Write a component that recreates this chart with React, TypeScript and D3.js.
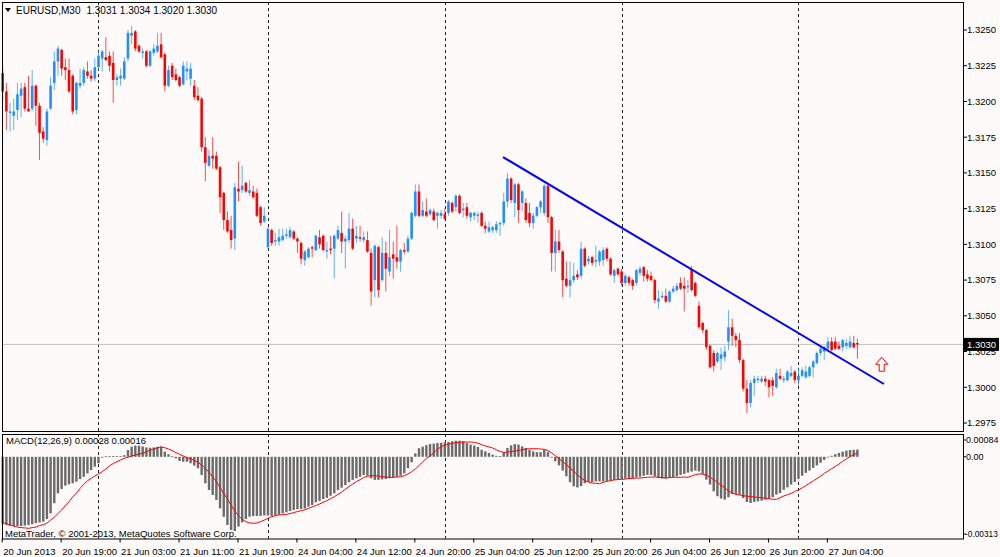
import React from 'react';
import * as d3 from 'd3';

// EURUSD M30, 20 Jun 2013 11:00 .. 27 Jun 2013 08:00
const opens = [
  1.3220, 1.3207, 1.3192, 1.3190, 1.3194, 1.3204, 1.3210, 1.3195, 1.3195, 1.3211,
  1.3197, 1.3179, 1.3173, 1.3195, 1.3213, 1.3228, 1.3236, 1.3224, 1.3222, 1.3218,
  1.3194, 1.3211, 1.3213, 1.3221, 1.3218, 1.3216, 1.3224, 1.3230, 1.3231, 1.3232,
  1.3227, 1.3215, 1.3216, 1.3216, 1.3230, 1.3246, 1.3249, 1.3239, 1.3234, 1.3235,
  1.3225, 1.3234, 1.3235, 1.3240, 1.3233, 1.3211, 1.3225, 1.3219, 1.3217, 1.3212,
  1.3221, 1.3216, 1.3211, 1.3204, 1.3202, 1.3168, 1.3155, 1.3162, 1.3162, 1.3154,
  1.3136, 1.3117, 1.3110, 1.3104, 1.3139, 1.3138, 1.3143, 1.3136, 1.3137, 1.3136,
  1.3126, 1.3116, 1.3098, 1.3110, 1.3102, 1.3102, 1.3103, 1.3106, 1.3105, 1.3109,
  1.3104, 1.3101, 1.3089, 1.3091, 1.3098, 1.3096, 1.3105, 1.3106, 1.3095, 1.3097,
  1.3097, 1.3104, 1.3108, 1.3102, 1.3103, 1.3111, 1.3104, 1.3105, 1.3103, 1.3103,
  1.3094, 1.3075, 1.3098, 1.3075, 1.3094, 1.3081, 1.3093, 1.3091, 1.3088, 1.3096,
  1.3095, 1.3104, 1.3120, 1.3137, 1.3120, 1.3123, 1.3121, 1.3123, 1.3120, 1.3120,
  1.3121, 1.3122, 1.3129, 1.3126, 1.3134, 1.3124, 1.3126, 1.3119, 1.3120, 1.3120,
  1.3122, 1.3113, 1.3109, 1.3110, 1.3110, 1.3114, 1.3115, 1.3130, 1.3146, 1.3129,
  1.3142, 1.3129, 1.3129, 1.3122, 1.3115, 1.3120, 1.3126, 1.3122, 1.3141, 1.3119,
  1.3094, 1.3102, 1.3095, 1.3076, 1.3071, 1.3075, 1.3079, 1.3078, 1.3097, 1.3088,
  1.3091, 1.3088, 1.3088, 1.3089, 1.3097, 1.3090, 1.3078, 1.3083, 1.3081, 1.3073,
  1.3077, 1.3075, 1.3073, 1.3080, 1.3084, 1.3079, 1.3078, 1.3075, 1.3060, 1.3063,
  1.3064, 1.3060, 1.3067, 1.3068, 1.3073, 1.3071, 1.3070, 1.3082, 1.3073, 1.3057,
  1.3045, 1.3040, 1.3029, 1.3024, 1.3018, 1.3020, 1.3021, 1.3032, 1.3042, 1.3036,
  1.3033, 1.3019, 1.2999, 1.2989, 1.3003, 1.3005, 1.3004, 1.3006, 1.3005, 1.3005,
  1.3000, 1.3008, 1.3005, 1.3005, 1.3008, 1.3011, 1.3005, 1.3008, 1.3007, 1.3008,
  1.3014, 1.3017, 1.3024, 1.3025, 1.3027, 1.3032, 1.3032, 1.3029, 1.3028, 1.3029,
  1.3028, 1.3031, 1.3031,
];

const highs = [
  1.3224, 1.3213, 1.3199, 1.3202, 1.3213, 1.3213, 1.3213, 1.3218, 1.3222, 1.3212,
  1.3199, 1.3182, 1.3195, 1.3217, 1.3235, 1.3239, 1.3237, 1.3230, 1.3230, 1.3219,
  1.3214, 1.3223, 1.3224, 1.3228, 1.3222, 1.3230, 1.3235, 1.3236, 1.3245, 1.3235,
  1.3235, 1.3219, 1.3223, 1.3231, 1.3250, 1.3253, 1.3250, 1.3240, 1.3237, 1.3236,
  1.3236, 1.3240, 1.3248, 1.3248, 1.3234, 1.3225, 1.3227, 1.3223, 1.3218, 1.3228,
  1.3228, 1.3227, 1.3215, 1.3210, 1.3203, 1.3175, 1.3166, 1.3175, 1.3165, 1.3155,
  1.3137, 1.3123, 1.3120, 1.3143, 1.3158, 1.3155, 1.3144, 1.3145, 1.3141, 1.3139,
  1.3127, 1.3126, 1.3112, 1.3111, 1.3108, 1.3111, 1.3111, 1.3111, 1.3112, 1.3110,
  1.3105, 1.3102, 1.3096, 1.3098, 1.3099, 1.3107, 1.3110, 1.3107, 1.3102, 1.3106,
  1.3107, 1.3113, 1.3123, 1.3106, 1.3122, 1.3118, 1.3113, 1.3113, 1.3109, 1.3109,
  1.3097, 1.3100, 1.3099, 1.3105, 1.3102, 1.3110, 1.3102, 1.3113, 1.3097, 1.3101,
  1.3106, 1.3123, 1.3142, 1.3142, 1.3130, 1.3132, 1.3125, 1.3125, 1.3123, 1.3124,
  1.3125, 1.3131, 1.3130, 1.3135, 1.3135, 1.3129, 1.3129, 1.3123, 1.3123, 1.3123,
  1.3123, 1.3116, 1.3116, 1.3113, 1.3116, 1.3116, 1.3136, 1.3150, 1.3147, 1.3143,
  1.3143, 1.3138, 1.3132, 1.3129, 1.3122, 1.3127, 1.3131, 1.3142, 1.3143, 1.3120,
  1.3110, 1.3110, 1.3096, 1.3088, 1.3088, 1.3087, 1.3082, 1.3102, 1.3098, 1.3092,
  1.3092, 1.3099, 1.3096, 1.3098, 1.3098, 1.3091, 1.3083, 1.3084, 1.3083, 1.3079,
  1.3078, 1.3076, 1.3083, 1.3085, 1.3085, 1.3082, 1.3081, 1.3076, 1.3068, 1.3067,
  1.3069, 1.3068, 1.3071, 1.3073, 1.3077, 1.3077, 1.3075, 1.3085, 1.3074, 1.3060,
  1.3046, 1.3041, 1.3030, 1.3026, 1.3025, 1.3028, 1.3029, 1.3054, 1.3048, 1.3038,
  1.3038, 1.3020, 1.3005, 1.3005, 1.3008, 1.3008, 1.3008, 1.3008, 1.3006, 1.3007,
  1.3013, 1.3013, 1.3008, 1.3012, 1.3015, 1.3012, 1.3014, 1.3014, 1.3015, 1.3015,
  1.3019, 1.3025, 1.3029, 1.3029, 1.3035, 1.3035, 1.3035, 1.3032, 1.3034, 1.3034,
  1.3036, 1.3036, 1.3034,
];

const lows = [
  1.3200, 1.3180, 1.3179, 1.3180, 1.3187, 1.3189, 1.3193, 1.3193, 1.3193, 1.3183,
  1.3159, 1.3171, 1.3169, 1.3194, 1.3208, 1.3218, 1.3218, 1.3215, 1.3206, 1.3191,
  1.3191, 1.3209, 1.3211, 1.3216, 1.3214, 1.3214, 1.3222, 1.3221, 1.3228, 1.3221,
  1.3199, 1.3211, 1.3211, 1.3215, 1.3228, 1.3240, 1.3235, 1.3234, 1.3230, 1.3224,
  1.3224, 1.3232, 1.3234, 1.3230, 1.3207, 1.3210, 1.3215, 1.3214, 1.3210, 1.3211,
  1.3215, 1.3211, 1.3201, 1.3200, 1.3165, 1.3144, 1.3154, 1.3153, 1.3152, 1.3122,
  1.3110, 1.3108, 1.3097, 1.3096, 1.3130, 1.3136, 1.3136, 1.3134, 1.3132, 1.3119,
  1.3113, 1.3115, 1.3097, 1.3099, 1.3099, 1.3099, 1.3102, 1.3104, 1.3104, 1.3103,
  1.3094, 1.3086, 1.3085, 1.3090, 1.3091, 1.3095, 1.3097, 1.3095, 1.3090, 1.3093,
  1.3076, 1.3103, 1.3094, 1.3083, 1.3101, 1.3096, 1.3101, 1.3102, 1.3101, 1.3094,
  1.3057, 1.3063, 1.3063, 1.3074, 1.3067, 1.3078, 1.3076, 1.3083, 1.3081, 1.3093,
  1.3094, 1.3103, 1.3119, 1.3119, 1.3119, 1.3119, 1.3120, 1.3116, 1.3111, 1.3118,
  1.3117, 1.3120, 1.3122, 1.3123, 1.3121, 1.3119, 1.3118, 1.3116, 1.3117, 1.3115,
  1.3112, 1.3108, 1.3108, 1.3108, 1.3108, 1.3106, 1.3113, 1.3126, 1.3129, 1.3119,
  1.3115, 1.3123, 1.3115, 1.3112, 1.3111, 1.3119, 1.3122, 1.3120, 1.3115, 1.3081,
  1.3081, 1.3094, 1.3063, 1.3070, 1.3063, 1.3073, 1.3075, 1.3076, 1.3084, 1.3086,
  1.3085, 1.3084, 1.3085, 1.3085, 1.3088, 1.3078, 1.3073, 1.3078, 1.3071, 1.3071,
  1.3071, 1.3068, 1.3071, 1.3078, 1.3074, 1.3074, 1.3074, 1.3059, 1.3055, 1.3062,
  1.3059, 1.3059, 1.3066, 1.3067, 1.3068, 1.3053, 1.3066, 1.3067, 1.3063, 1.3041,
  1.3038, 1.3026, 1.3013, 1.3011, 1.3017, 1.3012, 1.3018, 1.3026, 1.3029, 1.3028,
  1.3017, 1.2997, 1.2982, 1.2986, 1.2994, 1.3003, 1.3003, 1.3001, 1.2993, 1.2994,
  1.2999, 1.3005, 1.3003, 1.3004, 1.3007, 1.3003, 1.3001, 1.3007, 1.3006, 1.3007,
  1.3007, 1.3016, 1.3022, 1.3019, 1.3026, 1.3025, 1.3026, 1.3026, 1.3025, 1.3027,
  1.3027, 1.3027, 1.3020,
];

const closes = [
  1.3207, 1.3193, 1.3193, 1.3193, 1.3205, 1.3209, 1.3195, 1.3193, 1.3211, 1.3197,
  1.3178, 1.3174, 1.3193, 1.3211, 1.3228, 1.3237, 1.3223, 1.3222, 1.3207, 1.3193,
  1.3213, 1.3213, 1.3222, 1.3218, 1.3216, 1.3224, 1.3232, 1.3235, 1.3229, 1.3225,
  1.3215, 1.3217, 1.3218, 1.3228, 1.3248, 1.3248, 1.3237, 1.3235, 1.3235, 1.3225,
  1.3235, 1.3237, 1.3239, 1.3231, 1.3211, 1.3222, 1.3217, 1.3215, 1.3211, 1.3225,
  1.3223, 1.3223, 1.3203, 1.3201, 1.3168, 1.3157, 1.3162, 1.3160, 1.3153, 1.3133,
  1.3117, 1.3109, 1.3103, 1.3140, 1.3137, 1.3141, 1.3137, 1.3138, 1.3133, 1.3120,
  1.3115, 1.3120, 1.3111, 1.3101, 1.3103, 1.3105, 1.3106, 1.3107, 1.3110, 1.3104,
  1.3102, 1.3090, 1.3095, 1.3097, 1.3097, 1.3106, 1.3100, 1.3096, 1.3096, 1.3096,
  1.3106, 1.3110, 1.3102, 1.3104, 1.3111, 1.3097, 1.3106, 1.3104, 1.3105, 1.3095,
  1.3067, 1.3099, 1.3068, 1.3094, 1.3083, 1.3091, 1.3090, 1.3088, 1.3096, 1.3095,
  1.3104, 1.3122, 1.3137, 1.3120, 1.3124, 1.3120, 1.3124, 1.3117, 1.3122, 1.3122,
  1.3118, 1.3130, 1.3123, 1.3134, 1.3122, 1.3125, 1.3120, 1.3122, 1.3122, 1.3121,
  1.3113, 1.3111, 1.3112, 1.3112, 1.3114, 1.3115, 1.3130, 1.3146, 1.3131, 1.3142,
  1.3124, 1.3137, 1.3117, 1.3115, 1.3120, 1.3126, 1.3130, 1.3141, 1.3119, 1.3094,
  1.3102, 1.3096, 1.3075, 1.3071, 1.3075, 1.3078, 1.3077, 1.3097, 1.3085, 1.3090,
  1.3087, 1.3089, 1.3095, 1.3096, 1.3090, 1.3079, 1.3082, 1.3079, 1.3073, 1.3078,
  1.3073, 1.3071, 1.3082, 1.3083, 1.3078, 1.3076, 1.3075, 1.3061, 1.3062, 1.3064,
  1.3060, 1.3067, 1.3069, 1.3071, 1.3069, 1.3069, 1.3071, 1.3068, 1.3064, 1.3042,
  1.3040, 1.3028, 1.3014, 1.3015, 1.3024, 1.3023, 1.3025, 1.3042, 1.3036, 1.3033,
  1.3019, 1.2999, 1.2989, 1.3003, 1.3006, 1.3006, 1.3006, 1.3004, 1.3000, 1.3001,
  1.3010, 1.3006, 1.3006, 1.3011, 1.3010, 1.3005, 1.3008, 1.3012, 1.3011, 1.3014,
  1.3018, 1.3024, 1.3027, 1.3028, 1.3032, 1.3026, 1.3027, 1.3027, 1.3033, 1.3031,
  1.3032, 1.3028, 1.3030,
];

// MACD(12,26,9): main line (histogram) and signal line
const macdMain = [
  -0.00260, -0.00263, -0.00265, -0.00267, -0.00267, -0.00267, -0.00265, -0.00263, -0.00260, -0.00256,
  -0.00253, -0.00250, -0.00240, -0.00218, -0.00179, -0.00141, -0.00124, -0.00111, -0.00106, -0.00102,
  -0.00096, -0.00086, -0.00077, -0.00064, -0.00051, -0.00038, -0.00025, -0.00003, 0.00002, 0.00003,
  0.00003, 0.00002, 0.00003, 0.00006, 0.00026, 0.00039, 0.00043, 0.00043, 0.00040, 0.00036,
  0.00035, 0.00036, 0.00038, 0.00039, 0.00020, 0.00010, 0.00002, -0.00006, -0.00016, -0.00019,
  -0.00019, -0.00025, -0.00034, -0.00044, -0.00070, -0.00102, -0.00128, -0.00147, -0.00166, -0.00199,
  -0.00231, -0.00263, -0.00282, -0.00286, -0.00269, -0.00253, -0.00240, -0.00231, -0.00228, -0.00228,
  -0.00228, -0.00226, -0.00226, -0.00228, -0.00226, -0.00223, -0.00218, -0.00214, -0.00209, -0.00205,
  -0.00202, -0.00201, -0.00199, -0.00192, -0.00186, -0.00175, -0.00170, -0.00163, -0.00158, -0.00150,
  -0.00141, -0.00128, -0.00119, -0.00109, -0.00098, -0.00089, -0.00083, -0.00077, -0.00070, -0.00073,
  -0.00083, -0.00089, -0.00089, -0.00087, -0.00086, -0.00083, -0.00080, -0.00077, -0.00073, -0.00064,
  -0.00044, -0.00021, 0.00013, 0.00033, 0.00039, 0.00045, 0.00049, 0.00051, 0.00053, 0.00054,
  0.00056, 0.00057, 0.00060, 0.00062, 0.00062, 0.00060, 0.00053, 0.00047, 0.00043, 0.00038,
  0.00027, 0.00021, 0.00015, 0.00008, 0.00004, 0.00002, 0.00018, 0.00034, 0.00044, 0.00049,
  0.00047, 0.00040, 0.00034, 0.00027, 0.00021, 0.00018, 0.00018, 0.00027, 0.00018, -0.00002,
  -0.00017, -0.00033, -0.00053, -0.00075, -0.00098, -0.00114, -0.00118, -0.00113, -0.00102, -0.00098,
  -0.00097, -0.00095, -0.00095, -0.00095, -0.00093, -0.00092, -0.00089, -0.00088, -0.00086, -0.00084,
  -0.00084, -0.00083, -0.00079, -0.00077, -0.00073, -0.00070, -0.00070, -0.00075, -0.00082, -0.00084,
  -0.00084, -0.00082, -0.00078, -0.00075, -0.00070, -0.00066, -0.00061, -0.00057, -0.00053, -0.00056,
  -0.00066, -0.00088, -0.00107, -0.00133, -0.00152, -0.00161, -0.00165, -0.00156, -0.00143, -0.00143,
  -0.00146, -0.00159, -0.00174, -0.00178, -0.00174, -0.00172, -0.00169, -0.00165, -0.00161, -0.00156,
  -0.00146, -0.00140, -0.00127, -0.00118, -0.00107, -0.00097, -0.00084, -0.00073, -0.00062, -0.00053,
  -0.00043, -0.00033, -0.00023, -0.00012, -0.00003, 0.00004, 0.00010, 0.00015, 0.00020, 0.00024,
  0.00026, 0.00027, 0.00028,
];

const macdSignal = [
  -0.00253, -0.00258, -0.00263, -0.00267, -0.00271, -0.00273, -0.00274, -0.00276, -0.00273, -0.00271,
  -0.00265, -0.00262, -0.00256, -0.00244, -0.00233, -0.00219, -0.00205, -0.00188, -0.00173, -0.00155,
  -0.00140, -0.00122, -0.00106, -0.00093, -0.00083, -0.00074, -0.00066, -0.00057, -0.00047, -0.00035,
  -0.00026, -0.00019, -0.00012, -0.00006, -0.00002, 0.00003, 0.00007, 0.00011, 0.00013, 0.00020,
  0.00025, 0.00030, 0.00035, 0.00038, 0.00035, 0.00030, 0.00024, 0.00016, 0.00010, 0.00003,
  -0.00003, -0.00008, -0.00014, -0.00021, -0.00032, -0.00044, -0.00060, -0.00077, -0.00096, -0.00119,
  -0.00141, -0.00163, -0.00186, -0.00209, -0.00227, -0.00241, -0.00250, -0.00255, -0.00256, -0.00255,
  -0.00250, -0.00244, -0.00237, -0.00231, -0.00227, -0.00224, -0.00223, -0.00222, -0.00219, -0.00215,
  -0.00211, -0.00208, -0.00204, -0.00199, -0.00193, -0.00188, -0.00182, -0.00175, -0.00169, -0.00161,
  -0.00154, -0.00145, -0.00136, -0.00125, -0.00115, -0.00105, -0.00096, -0.00088, -0.00080, -0.00075,
  -0.00073, -0.00073, -0.00074, -0.00077, -0.00078, -0.00079, -0.00079, -0.00078, -0.00077, -0.00073,
  -0.00066, -0.00057, -0.00047, -0.00034, -0.00019, -0.00006, 0.00003, 0.00015, 0.00030, 0.00038,
  0.00045, 0.00049, 0.00052, 0.00054, 0.00056, 0.00057, 0.00057, 0.00057, 0.00056, 0.00052,
  0.00047, 0.00042, 0.00038, 0.00034, 0.00027, 0.00021, 0.00017, 0.00018, 0.00020, 0.00022,
  0.00025, 0.00027, 0.00030, 0.00031, 0.00031, 0.00031, 0.00030, 0.00029, 0.00024, 0.00015,
  0.00004, -0.00007, -0.00019, -0.00030, -0.00043, -0.00056, -0.00069, -0.00082, -0.00091, -0.00097,
  -0.00101, -0.00102, -0.00104, -0.00098, -0.00095, -0.00092, -0.00089, -0.00088, -0.00087, -0.00086,
  -0.00084, -0.00083, -0.00082, -0.00082, -0.00080, -0.00079, -0.00078, -0.00078, -0.00079, -0.00080,
  -0.00082, -0.00080, -0.00079, -0.00079, -0.00079, -0.00078, -0.00079, -0.00074, -0.00069, -0.00066,
  -0.00067, -0.00070, -0.00079, -0.00088, -0.00098, -0.00109, -0.00120, -0.00131, -0.00140, -0.00145,
  -0.00147, -0.00150, -0.00152, -0.00153, -0.00155, -0.00156, -0.00158, -0.00160, -0.00161, -0.00164,
  -0.00164, -0.00158, -0.00151, -0.00146, -0.00141, -0.00134, -0.00128, -0.00120, -0.00111, -0.00102,
  -0.00093, -0.00084, -0.00075, -0.00064, -0.00055, -0.00046, -0.00037, -0.00028, -0.00017, -0.00008,
  0.00001, 0.00008, 0.00016,
];

// time axis: bar index of each label, and its text
const timeTickBars = [0, 16, 32, 48, 64, 80, 96, 112, 128, 144, 160, 176, 192, 208, 224];
const timeTickLabels = [
  '20 Jun 2013', '20 Jun 19:00', '21 Jun 03:00', '21 Jun 11:00', '21 Jun 19:00',
  '24 Jun 04:00', '24 Jun 12:00', '24 Jun 20:00', '25 Jun 04:00', '25 Jun 12:00',
  '25 Jun 20:00', '26 Jun 04:00', '26 Jun 12:00', '26 Jun 20:00', '27 Jun 04:00',
];
const daySeparatorBars = [26, 72, 120, 168, 216];

const priceTicks = [
  1.2975, 1.3, 1.3025, 1.305, 1.3075, 1.31, 1.3125, 1.315, 1.3175, 1.32, 1.3225, 1.325,
];
const macdTicks = [0.00084, 0, -0.00313];
const macdTickLabels = ['0.00084', '0.00', '-0.00313'];

const trendLine = [
  { bar: 135.8, price: 1.31611 },
  { bar: 239.2, price: 1.30023 },
];
const bidPrice = 1.303;
const arrowMark = { bar: 238.6, price: 1.3021 };

const headerSymbol = 'EURUSD,M30';
const headerQuote = '1.3031 1.3034 1.3020 1.3030';
const macdTitle = 'MACD(12,26,9) 0.00028 0.00016';
const copyright = 'MetaTrader, \u00a9 2001-2013, MetaQuotes Software Corp.';

const W = 1000;
const H = 557;
const frame = { left: 2, right: 963, top: 2, mainBottom: 431, macdTop: 434, macdBottom: 538.5 };
const BG = '#fffafa';
const UP = '#1e90ff';
const DOWN = '#ff0000';
const FONT = '"Liberation Sans", Arial, sans-serif';

export default function App() {
  const n = closes.length;
  const x = d3.scaleLinear().domain([0, n - 1]).range([2.7, 857.4]);
  const step = x(1) - x(0);
  const y = d3.scaleLinear().domain([1.2975, 1.325]).range([423, 30]);
  const ym = d3.scaleLinear().domain([-0.00313, 0.00084]).range([538, 435]);

  const bodyW = step * 0.7;
  const signalPath = d3
    .line<number>()
    .x((_, i) => x(i))
    .y((d) => ym(d))(macdSignal) ?? '';

  const ax = x(arrowMark.bar);
  const ay = y(arrowMark.price);
  const arrowPath = `M${ax},${ay} L${ax + 6},${ay + 7} L${ax + 2.5},${ay + 7} L${ax + 2.5},${ay + 14} L${ax - 2.5},${ay + 14} L${ax - 2.5},${ay + 7} L${ax - 6},${ay + 7} Z`;

  const bidY = y(bidPrice);
  const textProps = { fontFamily: FONT, fontSize: 9.5, fill: '#000' };

  return (
    <svg
      width={W}
      height={H}
      viewBox={`0 0 ${W} ${H}`}
      style={{ position: 'fixed', left: 0, top: 0, display: 'block' }}
    >
      <rect x={0} y={0} width={W} height={H} fill={BG} />

      {/* day separators */}
      {daySeparatorBars.map((b) => (
        <line
          key={`sep-${b}`}
          x1={Math.round(x(b)) + 0.5}
          x2={Math.round(x(b)) + 0.5}
          y1={frame.top}
          y2={frame.macdBottom}
          stroke="#222"
          strokeDasharray="3 3"
        />
      ))}

      {/* bid line */}
      <line x1={frame.left} x2={frame.right} y1={bidY} y2={bidY} stroke="#c0c0c0" />

      {/* candles */}
      {closes.map((c, i) => {
        const o = opens[i];
        const up = c >= o;
        const col = up ? UP : DOWN;
        const top = y(Math.max(o, c));
        const bot = y(Math.min(o, c));
        return (
          <g key={`c-${i}`}>
            <line
              x1={x(i)}
              x2={x(i)}
              y1={y(highs[i])}
              y2={y(lows[i])}
              stroke={col}
              strokeOpacity={0.7}
              strokeWidth={1}
            />
            <rect
              x={x(i) - bodyW / 2}
              y={top}
              width={bodyW}
              height={Math.max(1, bot - top)}
              fill={col}
            />
          </g>
        );
      })}

      {/* trend line */}
      <line
        x1={x(trendLine[0].bar)}
        y1={y(trendLine[0].price)}
        x2={x(trendLine[1].bar)}
        y2={y(trendLine[1].price)}
        stroke="#0000ff"
        strokeWidth={2}
      />

      {/* arrow object */}
      <path d={arrowPath} fill="#fff" stroke={DOWN} strokeWidth={1} />

      {/* MACD histogram */}
      {macdMain.map((v, i) => {
        const y0 = ym(0);
        const y1 = ym(v);
        return (
          <rect
            key={`h-${i}`}
            x={x(i) - 1.2}
            y={Math.min(y0, y1)}
            width={2.4}
            height={Math.max(0.8, Math.abs(y1 - y0))}
            fill="#6a6a6a"
          />
        );
      })}
      <path d={signalPath} fill="none" stroke="#ff0000" strokeWidth={1} />

      {/* frames */}
      <rect
        x={frame.left + 0.5}
        y={frame.top + 0.5}
        width={frame.right - frame.left}
        height={frame.mainBottom - frame.top}
        fill="none"
        stroke="#000"
      />
      <rect
        x={frame.left + 0.5}
        y={frame.macdTop + 0.5}
        width={frame.right - frame.left}
        height={frame.macdBottom - frame.macdTop}
        fill="none"
        stroke="#000"
      />

      {/* price axis */}
      {priceTicks.map((p) => (
        <g key={`p-${p}`}>
          <line x1={frame.right} x2={frame.right + 4} y1={y(p)} y2={y(p)} stroke="#000" />
          <text x={frame.right + 4} y={y(p)} dy="0.35em" {...textProps}>
            {p.toFixed(4)}
          </text>
        </g>
      ))}
      <rect x={frame.right + 1} y={bidY - 6.5} width={35} height={13} fill="#000" />
      <text x={frame.right + 4} y={bidY} dy="0.35em" {...textProps} fill="#fff">
        {bidPrice.toFixed(4)}
      </text>

      {/* MACD axis */}
      {macdTicks.map((v, i) => {
        const yy = ym(v) + (i === 0 ? 5 : i === macdTicks.length - 1 ? -4 : 0);
        const long = macdTickLabels[i].length > 7;
        return (
          <g key={`m-${i}`}>
            <line x1={frame.right} x2={frame.right + 3} y1={yy} y2={yy} stroke="#000" />
            <text
              x={frame.right + (long ? 2 : 3)}
              y={yy}
              dy="0.35em"
              {...textProps}
              fontSize={long ? 8.3 : 9}
            >
              {macdTickLabels[i]}
            </text>
          </g>
        );
      })}

      {/* time axis */}
      {timeTickBars.map((b, i) => (
        <g key={`t-${b}`}>
          <line
            x1={x(b) - 0.5}
            x2={x(b) - 0.5}
            y1={frame.macdBottom}
            y2={frame.macdBottom + 4}
            stroke="#000"
          />
          <text x={x(b) + 0.5} y={552} dy="0.35em" {...textProps}>
            {timeTickLabels[i]}
          </text>
        </g>
      ))}

      {/* header and labels */}
      <path d="M5,8 L11,8 L8,12 Z" fill="#000" />
      <text x={16} y={10} dy="0.35em" {...textProps} fontSize={10}>
        {headerSymbol}
        <tspan dx={6}>{headerQuote}</tspan>
      </text>
      <text x={6} y={441} dy="0.35em" {...textProps}>
        {macdTitle}
      </text>
      <text x={5} y={534} dy="0.35em" {...textProps}>
        {copyright}
      </text>
    </svg>
  );
}
